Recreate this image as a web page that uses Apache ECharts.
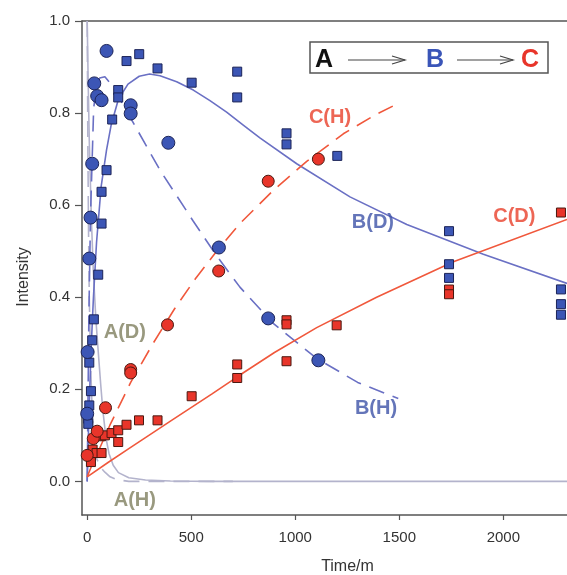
<!DOCTYPE html>
<html><head><meta charset="utf-8">
<script src="https://cdn.jsdelivr.net/npm/echarts@6/dist/echarts.min.js"></script>
<style>html,body{margin:0;padding:0;background:#fff}#c{width:567px;height:575px}</style>
</head><body><div id="c"></div>
<script>
// ---- tick labels ----
const xTicks = [0, 500, 1000, 1500, 2000];
const yTicks = [0, 0.2, 0.4, 0.6, 0.8, 1.0];

// ---- measured points ----
const bH_pts = [[2,0.281],[0,0.147],[10,0.484],[16,0.573],[24,0.69],[34,0.8645],[48,0.837],[69,0.828],[93,0.935],[209,0.817],[209,0.799],[390,0.7355],[633,0.508],[870,0.354],[1111,0.263]];
const bD_pts = [[5,0.136],[5,0.125],[10,0.165],[18,0.196],[10,0.258],[24,0.3065],[32,0.352],[53,0.449],[69,0.560],[69,0.629],[93,0.676],[120,0.786],[149,0.85],[149,0.834],[189,0.913],[250,0.928],[338,0.897],[502,0.866],[721,0.890],[721,0.834],[958,0.756],[958,0.732],[1202,0.707],[1739,0.5435],[1739,0.4717],[1739,0.442],[2277,0.417],[2277,0.385],[2277,0.362]];
const cH_pts = [[0,0.0565],[29,0.093],[48,0.109],[88,0.160],[209,0.243],[209,0.2355],[386,0.34],[632,0.457],[870,0.652],[1111,0.700]];
const cD_pts = [[18,0.042],[26,0.069],[45,0.0616],[69,0.0616],[66,0.098],[85,0.100],[117,0.105],[149,0.111],[149,0.0855],[189,0.123],[249,0.1326],[338,0.1326],[502,0.185],[721,0.254],[721,0.2246],[958,0.35],[958,0.341],[958,0.261],[1199,0.339],[1739,0.4167],[1739,0.4065],[2277,0.584]];

// ---- fitted curves ----
const aD_fit = [[0,1.0],[5,0.86],[10,0.74],[20,0.57],[30,0.45],[42,0.35],[55,0.27],[65,0.21],[75,0.155],[90,0.095],[105,0.06],[125,0.035],[150,0.019],[200,0.008],[280,0.003],[400,0.001],[600,0],[2306,0]];
const aH_fit = [[0,1.0],[3,0.75],[6,0.56],[10,0.4],[16,0.263],[24,0.15],[32,0.09],[45,0.05],[65,0.03],[85,0.02],[110,0.01],[140,0.004],[200,0],[700,0]];
const bD_fit = [[0,0],[5,0.09],[10,0.17],[19,0.29],[30,0.4],[45,0.52],[67,0.64],[93,0.72],[115,0.774],[150,0.83],[196,0.863],[250,0.88],[300,0.885],[350,0.881],[430,0.868],[510,0.85],[590,0.827],[670,0.802],[750,0.774],[830,0.746],[1007,0.69],[1263,0.618],[1536,0.558],[1904,0.4935],[2306,0.43]];
const bH_fit = [[0,0],[4,0.18],[8,0.36],[16,0.58],[31,0.81],[45,0.86],[60,0.876],[85,0.879],[120,0.86],[205,0.792],[350,0.676],[510,0.565],[622,0.49],[734,0.422],[894,0.343],[1103,0.267],[1300,0.215],[1495,0.18]];
const cD_fit = [[0,0.01],[100,0.041],[200,0.071],[400,0.131],[600,0.19],[734,0.231],[900,0.28],[1103,0.334],[1391,0.4],[1760,0.477],[2306,0.569]];
const cH_fit = [[0,0.01],[27,0.04],[60,0.072],[109,0.122],[209,0.215],[317,0.3],[420,0.375],[520,0.44],[622,0.5],[734,0.56],[894,0.632],[1055,0.695],[1231,0.755],[1380,0.795],[1495,0.821]];

// ---- curve annotations ----
const curveNames = ['A(D)','A(H)','B(D)','B(H)','C(H)','C(D)'];
const curveNameAt = [[181,0.324],[229,-0.041],[1373,0.5615],[1388,0.159],[1167,0.791],[2053,0.576]];

const BLUE = '#3c56b5', RED = '#e8352a', BLINE = '#6a70c4', RLINE = '#f0583c', GREY = '#b3b3cc';
const labelColors = {'A(D)':'#80805f','A(H)':'#80805f','B(D)':'#3d52a8','B(H)':'#3d52a8','C(H)':'#e8402a','C(D)':'#e8402a'};

const chart = echarts.init(document.getElementById('c'), null, {renderer:'canvas'});
const lineS = (data, color, dashed) => ({
  type:'line', data, showSymbol:false, symbol:'none', smooth:false,
  lineStyle:{color, width:1.6, type: dashed ? [16,9] : 'solid'}, z:2, silent:true
});
const scat = (data, symbol, size, fill, border) => ({
  type:'scatter', data, symbol, symbolSize:size,
  itemStyle:{color:fill, borderColor:border, borderWidth:1, opacity:1}, z:5
});

chart.setOption({
  animation:false,
  grid:{left:82, right:0, top:21, bottom:60, containLabel:false, outerBoundsMode:'none'},
  xAxis:[{
    type:'value', min:-25, max:2306,
    name:'Time/m', nameLocation:'middle', nameGap:44,
    nameTextStyle:{fontFamily:'Liberation Sans, Arial', fontSize:16, color:'#333', padding:[0,0,0,46]},
    axisLine:{show:true, onZero:false, lineStyle:{color:'#555', width:1.5}},
    axisTick:{show:true, inside:false, length:5, customValues:xTicks, lineStyle:{color:'#555', width:1.2}},
    axisLabel:{customValues:xTicks, margin:15, fontFamily:'Liberation Sans, Arial', fontSize:15, color:'#333',
      formatter:v => String(v)},
    splitLine:{show:false}
  },{
    type:'value', position:'top', min:-25, max:2306,
    axisLine:{show:true, onZero:false, lineStyle:{color:'#555', width:1.5}},
    axisTick:{show:false}, axisLabel:{show:false}, splitLine:{show:false}
  }],
  yAxis:{
    type:'value', min:-0.073, max:1.0,
    name:'Intensity', nameLocation:'middle', nameGap:50, nameRotate:90,
    nameTextStyle:{fontFamily:'Liberation Sans, Arial', fontSize:16, color:'#333', padding:[0,18,0,0]},
    axisLine:{show:true, onZero:false, lineStyle:{color:'#555', width:1.5}},
    axisTick:{show:true, length:7, customValues:yTicks, lineStyle:{color:'#555', width:1.2}},
    axisLabel:{customValues:yTicks, margin:12, fontFamily:'Liberation Sans, Arial', fontSize:15, color:'#333',
      formatter:v => v.toFixed(1)},
    splitLine:{show:false}
  },
  series:[
    lineS(aD_fit, GREY, false),
    lineS(aH_fit, GREY, true),
    lineS(bD_fit, BLINE, false),
    lineS(bH_fit, BLINE, true),
    lineS(cD_fit, RLINE, false),
    lineS(cH_fit, RLINE, true),
    scat(bD_pts, 'rect', 9, BLUE, '#1c2458'),
    scat(cD_pts, 'rect', 9, RED, '#4a1810'),
    scat(bH_pts, 'circle', 13, BLUE, '#1c2458'),
    scat(cH_pts, 'circle', 12, RED, '#4a1810'),
    {
      type:'scatter', symbolSize:0, z:6, silent:true,
      data: curveNames.map((n,i) => ({name:n, value:curveNameAt[i],
        label:{show:true, position:'inside', formatter:n, color:labelColors[n],
          fontFamily:'Liberation Sans, Arial', fontWeight:'bold', fontSize:20}}))
    }
  ],
  graphic:[
    {type:'rect', shape:{x:310, y:42, width:238, height:31}, style:{fill:'#fff', stroke:'#555', lineWidth:1.5}, z:10},
    {type:'text', x:324, y:60, style:{text:'A', fill:'#111', font:'bold 25px Liberation Sans', align:'center', verticalAlign:'middle'}, z:11},
    {type:'line', shape:{x1:348, y1:60, x2:405, y2:60}, style:{stroke:'#444', lineWidth:1.2}, z:11},
    {type:'polyline', shape:{points:[[392,56],[405,60],[392,64]]}, style:{stroke:'#444', lineWidth:1.2, fill:null}, z:11},
    {type:'text', x:435, y:60, style:{text:'B', fill:'#3a55b8', font:'bold 25px Liberation Sans', align:'center', verticalAlign:'middle'}, z:11},
    {type:'line', shape:{x1:457, y1:60, x2:513, y2:60}, style:{stroke:'#444', lineWidth:1.2}, z:11},
    {type:'polyline', shape:{points:[[500,56],[513,60],[500,64]]}, style:{stroke:'#444', lineWidth:1.2, fill:null}, z:11},
    {type:'text', x:530, y:60, style:{text:'C', fill:'#e8352a', font:'bold 25px Liberation Sans', align:'center', verticalAlign:'middle'}, z:11}
  ]
});
</script></body></html>
